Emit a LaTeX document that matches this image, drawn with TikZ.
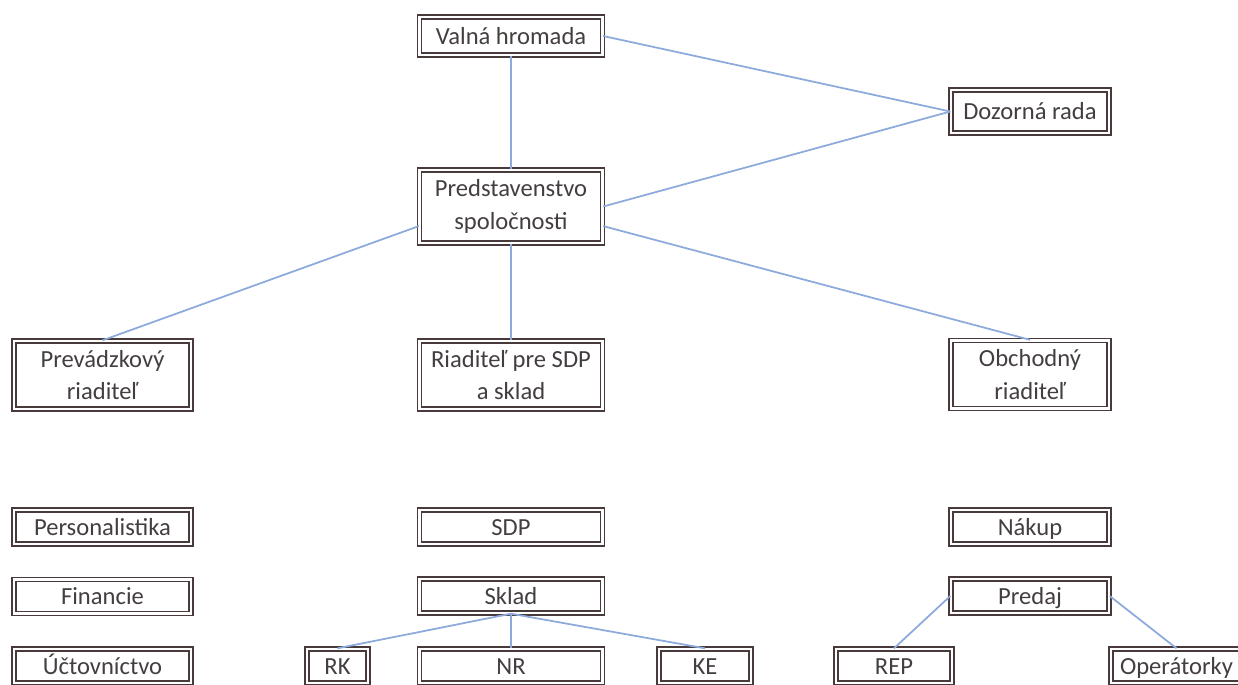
\documentclass[tikz,border=0pt]{standalone}
\usepackage{fontspec}
\setmainfont{Carlito}
\usepackage{xcolor}
\usepackage{tikz}

\definecolor{boxline}{RGB}{72,58,58}
\definecolor{linkblue}{RGB}{140,170,220}
\definecolor{textgray}{RGB}{68,62,62}

\begin{document}
\begin{tikzpicture}[x=0.02cm,y=-0.02cm,
    lcol/.style={minimum width=3.54cm},
    mcol/.style={minimum width=3.66cm},
    rcol/.style={minimum width=3.16cm},
    oneline/.style={text height=11.2pt,text depth=2.1pt}]
\useasboundingbox (0,0) rectangle (1238,684);
\begin{scope}[every node/.style={draw=boxline,line width=0.8pt,double=white,double distance=1.5pt,
              text=textgray,font=\fontsize{14}{18.5}\selectfont,align=center,
              inner sep=1pt,minimum height=0.68cm}]
    % vedenie
    \node[mcol,oneline,minimum height=0.76cm] (valna) at (511,36) {Valná hromada};
    \node[rcol,oneline,minimum height=0.86cm] (dozor) at (1030,111.5) {Dozorná rada};
    \node[mcol,minimum height=1.46cm] (predst) at (511,206.5) {Predstavenstvo\\spoločnosti};
    % riaditelia
    \node[lcol,minimum height=1.36cm] (prevadz) at (102.5,375) {Prevádzkový\\riaditeľ};
    \node[mcol,minimum height=1.36cm] (riaditel) at (511,375) {Riaditeľ pre SDP\\a sklad};
    \node[rcol,minimum height=1.36cm] (obchod) at (1030,374.5) {Obchodný\\riaditeľ};
    % oddelenia
    \node[lcol,oneline] (personal) at (102.5,527) {Personalistika};
    \node[lcol,oneline] (financie) at (102.5,596.5) {Financie};
    \node[lcol,oneline] (uctov) at (102.5,666) {Účtovníctvo};
    \node[mcol,oneline] (sdp) at (511,527) {SDP};
    \node[mcol,oneline] (sklad) at (511,596) {Sklad};
    \node[oneline,minimum width=1.22cm] (rk) at (337.5,666) {RK};
    \node[mcol,oneline] (nr) at (511,666) {NR};
    \node[oneline,minimum width=1.84cm] (ke) at (705,666) {KE};
    \node[rcol,oneline] (nakup) at (1030,527) {Nákup};
    \node[rcol,oneline] (predaj) at (1030,596) {Predaj};
    \node[oneline,minimum width=2.32cm] (rep) at (894,666) {REP};
    \node[oneline,minimum width=2.62cm] (oper) at (1176.5,666) {Operátorky};
\end{scope}
\begin{scope}[every edge/.style={draw=linkblue,line width=1pt}]
    \path (valna) edge (predst);
    \path (valna.east) edge (dozor.west);
    \path (predst.east) edge (dozor.west);
    \path (predst.192) edge (prevadz.north);
    \path (predst) edge (riaditel);
    \path (predst.-12) edge (obchod.north);
    \path (sklad.south) edge (rk.north);
    \path (sklad) edge (nr);
    \path (sklad.south) edge (ke.north);
    \path (predaj.west) edge (rep.north);
    \path (predaj.east) edge (oper.north);
\end{scope}
\end{tikzpicture}
\end{document}
